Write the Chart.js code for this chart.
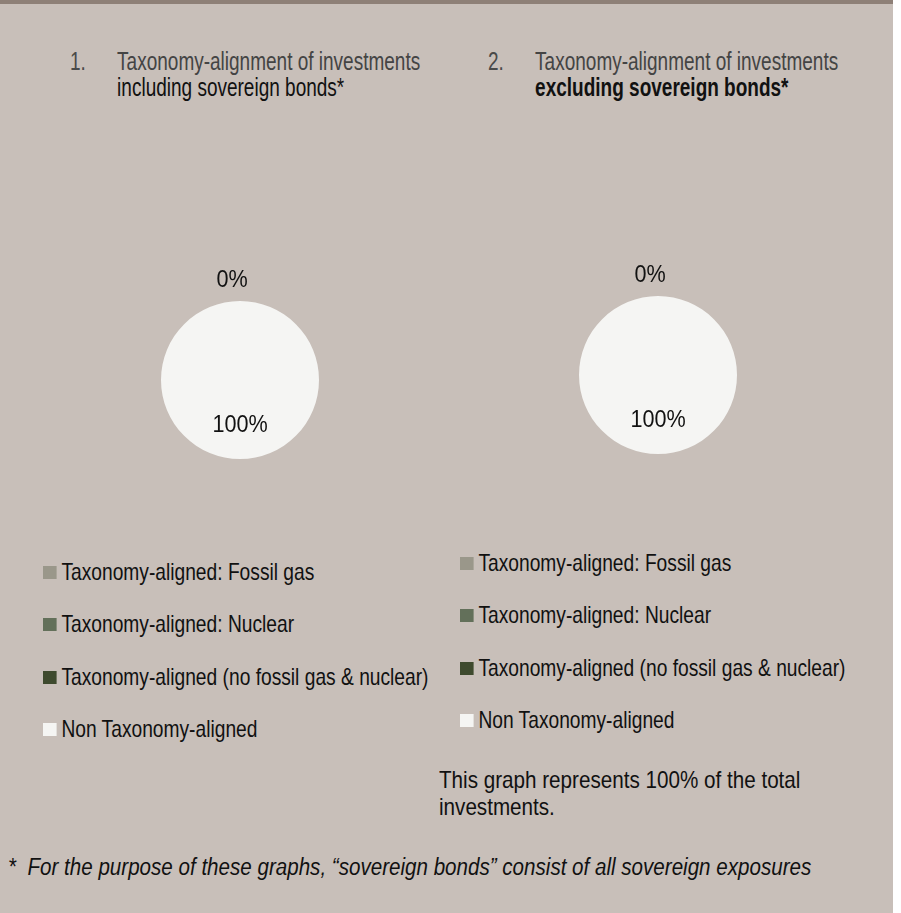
<!DOCTYPE html>
<html>
<head>
<meta charset="utf-8">
<script src="https://cdn.jsdelivr.net/npm/chart.js@4.4.1/dist/chart.umd.min.js"></script>
<style>
  html, body { margin: 0; padding: 0; }
  body { width: 901px; height: 913px; background: #fff; position: relative; overflow: hidden;
         font-family: "Liberation Sans", Arial, sans-serif; color: #111; }
  #panel { position: absolute; left: 0; top: 0; width: 893px; height: 913px; background: #c8bfb9; }
  #topbar { position: absolute; left: 0; top: 0; width: 893px; height: 4px; background: #8e8077; }
  .title { position: absolute; font-size: 25px; line-height: 26px; white-space: nowrap;
           transform: scaleX(0.76); transform-origin: left top; }
  .title .num { position: absolute; left: 0; top: 0; color: #4a4a4a; }
  .title .l1 { margin-left: 62px; color: #444; }
  .title .l2 { margin-left: 62px; color: #111; }
  .wrap { position: absolute; width: 260px; height: 260px; }
  .legend { position: absolute; list-style: none; margin: 0; padding: 0; font-size: 24px;
            transform: scaleX(0.8); transform-origin: left top; }
  .legend li { height: 52.4px; line-height: 26px; white-space: nowrap; }
  .legend .box { display: inline-block; width: 17px; height: 13px; margin-right: 6px; vertical-align: 1px; }
  .note { position: absolute; font-size: 24px; line-height: 27px; white-space: nowrap;
          transform: scaleX(0.86); transform-origin: left top; }
  .foot { position: absolute; left: 8px; top: 856px; font-size: 23px; line-height: 22px; font-style: italic; white-space: nowrap;
          transform: scaleX(0.895); transform-origin: left top; }
</style>
</head>
<body>
<div id="panel">
  <div id="topbar"></div>
  <div class="title" style="left:70px; top:48px;">
    <span class="num">1.</span>
    <div class="l1">Taxonomy-alignment of investments</div>
    <div class="l2">including sovereign bonds*</div>
  </div>
  <div class="title" style="left:488px; top:48px;">
    <span class="num">2.</span>
    <div class="l1">Taxonomy-alignment of investments</div>
    <div class="l2" style="font-weight:bold;">excluding sovereign bonds*</div>
  </div>

  <div class="wrap" style="left:110px; top:250px;"><canvas id="pie1" width="260" height="260"></canvas></div>
  <div class="wrap" style="left:528px; top:245px;"><canvas id="pie2" width="260" height="260"></canvas></div>

  <ul class="legend" id="legend1" style="left:43px; top:559px;"></ul>
  <ul class="legend" id="legend2" style="left:460px; top:550px;"></ul>

  <div class="note" style="left:439px; top:766px;">This graph represents 100% of the total<br>investments.</div>
  <div class="foot">*&nbsp; For the purpose of these graphs, &ldquo;sovereign bonds&rdquo; consist of all sovereign exposures</div>
</div>

<script>
// categories and values (percent of investments)
const categories = [
  'Taxonomy-aligned: Fossil gas',
  'Taxonomy-aligned: Nuclear',
  'Taxonomy-aligned (no fossil gas & nuclear)',
  'Non Taxonomy-aligned'
];
const inclSovereign = [0, 0, 0, 100];
const exclSovereign = [0, 0, 0, 100];
const sliceColors = ['#9a978a', '#63705a', '#3e4a2e', '#f5f5f3'];

// Draw percentage labels: inside for real slices, above the pie for empty ones
const pctLabels = {
  id: 'pctLabels',
  afterDatasetsDraw(chart) {
    const ctx = chart.ctx;
    const meta = chart.getDatasetMeta(0);
    const values = chart.data.datasets[0].data;
    let zeroDone = false;
    meta.data.forEach((arc, i) => {
      const { x, y, startAngle, endAngle, outerRadius } = arc.getProps(['x', 'y', 'startAngle', 'endAngle', 'outerRadius'], true);
      const mid = (startAngle + endAngle) / 2;
      const v = values[i];
      let tx, ty;
      if (v === 0) {
        if (zeroDone) return;
        zeroDone = true;
        const r = outerRadius * 1.18;
        tx = x + Math.cos(mid) * r - 8;
        ty = y + Math.sin(mid) * r;
      } else {
        const r = outerRadius * 0.66;
        tx = x + Math.cos(mid) * r;
        ty = y + Math.sin(mid) * r;
      }
      ctx.save();
      ctx.font = '24px "Liberation Sans", Arial, sans-serif';
      ctx.fillStyle = '#111';
      ctx.textAlign = 'center';
      ctx.textBaseline = 'alphabetic';
      ctx.translate(tx, ty);
      ctx.scale(0.9, 1);
      ctx.fillText(v + '%', 0, 0);
      ctx.restore();
    });
  }
};

function makePie(id, values) {
  return new Chart(document.getElementById(id), {
    type: 'pie',
    data: {
      labels: categories,
      datasets: [{
        data: values,
        backgroundColor: sliceColors,
        borderWidth: 0
      }]
    },
    options: {
      responsive: false,
      animation: false,
      layout: { padding: 51 },
      plugins: { legend: { display: false }, tooltip: { enabled: false } }
    },
    plugins: [pctLabels]
  });
}

function makeLegend(id) {
  document.getElementById(id).innerHTML = categories.map((c, i) =>
    `<li><span class="box" style="background:${sliceColors[i]};"></span>${c.replace('&', '&amp;')}</li>`
  ).join('');
}

makePie('pie1', inclSovereign);
makePie('pie2', exclSovereign);
makeLegend('legend1');
makeLegend('legend2');
</script>
</body>
</html>
